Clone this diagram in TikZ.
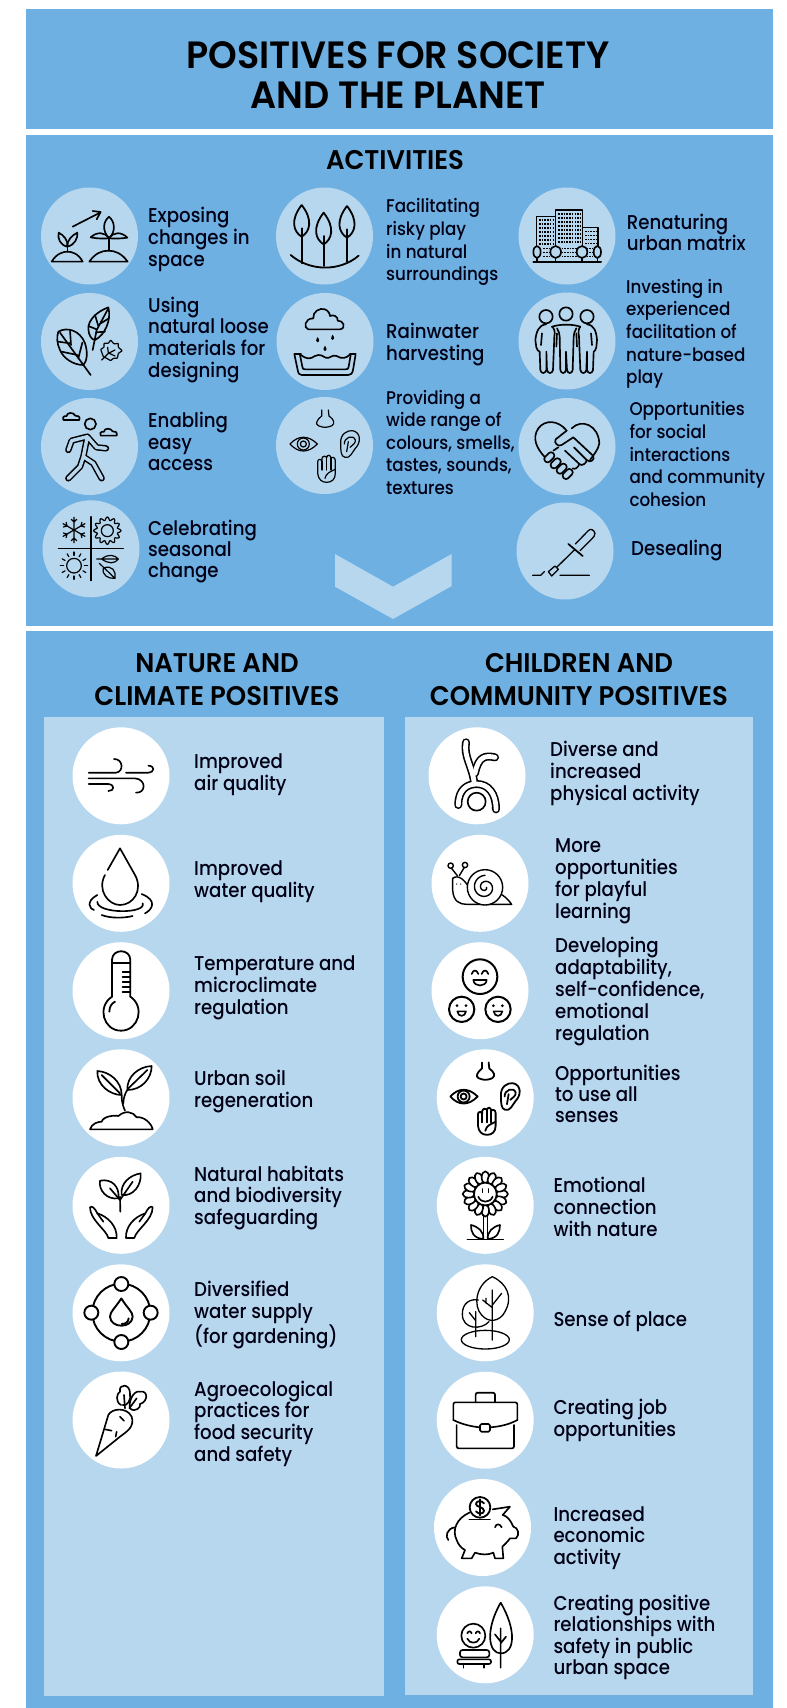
\documentclass[tikz,border=0pt]{standalone}
\usepackage{fontspec}
\setmainfont{Poppins Medium}[FakeStretch=0.91]
\newfontfamily\headfont{Poppins SemiBold}[FakeStretch=0.96]
\usetikzlibrary{calc}
\definecolor{panel}{HTML}{6EB0E2}
\definecolor{lite}{HTML}{B7D7EF}
\newcommand\lab[5][21.6]{\node[lbl] (#2) at (#3,#4) {\fontsize{20}{#1}\selectfont\begin{tabular}[t]{@{}l@{}}#5\end{tabular}};}
\newcommand\labsm[5][22.6]{\node[lbl] (#2) at (#3,#4) {\fontsize{18.4}{#1}\selectfont\begin{tabular}[t]{@{}l@{}}#5\end{tabular}};}
\tikzset{
  panelbox/.style={fill=panel,draw=none},
  litebox/.style={fill=lite,draw=none},
  acirc/.style={circle,fill=lite,draw=none,minimum size=97pt,inner sep=0pt},
  wcirc/.style={circle,fill=white,draw=none,minimum size=97pt,inner sep=0pt},
  lbl/.style={anchor=base west,inner sep=0pt,text=black!92!blue},
  headA/.style={anchor=base,inner sep=0pt,font=\fontsize{38}{44}\selectfont\headfont},
  headB/.style={anchor=base,inner sep=0pt,font=\fontsize{27}{32}\selectfont\headfont},
  zc/.style 2 args={shift={(#1,#2)},x=0.33333pt,y=-0.33333pt},
  ico/.style={draw=black,line width=1.65pt,line cap=round,line join=round},
  thin ico/.style={draw=black,line width=1.2pt,line cap=round,line join=round},
}
\newcommand\senses{%
  \draw (965,150)--(965,168) .. controls (950,180) and (945,192) .. (955,197) .. controls (965,200) and (970,203) .. (976,202) .. controls (985,203) and (990,198) .. (996,197) .. controls (1006,190) and (1002,178) .. (987,168)--(985,150);
  \draw (870,252) .. controls (895,225) and (925,225) .. (952,252) .. controls (925,280) and (895,280) .. (870,252);
  \draw (910,252) circle (18) (910,252) circle (9);
  \draw (1022,250) .. controls (1020,222) and (1042,210) .. (1058,212) .. controls (1085,218) and (1082,250) .. (1066,265) .. controls (1056,278) and (1050,296) .. (1035,292) .. controls (1022,290) and (1022,270) .. (1022,250);
  \draw (1033,252) .. controls (1032,232) and (1060,222) .. (1066,240) .. controls (1068,250) and (1056,256) .. (1050,262);
  \draw (1045,245)--(1040,275);
  \draw (953,340)--(953,305) .. controls (953,296) and (965,296) .. (966,305)--(966,295) .. controls (967,287) and (979,287) .. (980,293) .. controls (981,283) and (992,283) .. (993,295) .. controls (994,290) and (1006,290) .. (1006,302)--(1006,340) .. controls (1006,358) and (995,367) .. (980,367) .. controls (965,367) and (955,358) .. (953,340) -- cycle;
  \draw (966,305)--(966,330) (980,293)--(980,330) (993,295)--(993,330);
  \draw (975,355) .. controls (978,340) and (990,335) .. (1006,328);
}
\begin{document}
\begin{tikzpicture}[x=1pt,y=-1pt]
\useasboundingbox (0,0) rectangle (787,1708);
\fill[white] (0,0) rectangle (787,1708);
% panels
\fill[panelbox] (26,9) rectangle (773,129);
\fill[panelbox] (26,135) rectangle (773,626);
\fill[panelbox] (26,631) rectangle (773,1708);
\fill[litebox] (44,717) rectangle (384,1696);
\fill[litebox] (405,717) rectangle (753,1695);
% chevron
\fill[litebox] (335,554) -- (393,586.7) -- (451.7,554) -- (451.7,586) -- (393,619) -- (335,586.7) -- cycle;
% headings
\node[headA] (title1) at (398,68) {POSITIVES FOR SOCIETY};
\node[headA] (title2) at (398,108) {AND THE PLANET};
\node[headB] (acth) at (395,169) {ACTIVITIES};
\node[headB] (nat1) at (217,672.7) {NATURE AND};
\node[headB] (nat2) at (217,705) {CLIMATE POSITIVES};
\node[headB] (chi1) at (579,672.7) {CHILDREN AND};
\node[headB] (chi2) at (579,705) {COMMUNITY POSITIVES};
% activity circles
\node[acirc] (a1) at (89.5,236) {};
\node[acirc] (a2) at (89.5,341.5) {};
\node[acirc] (a3) at (89.5,446.5) {};
\node[acirc] (a4) at (91,548.8) {};
\node[acirc] (b1) at (324.5,236) {};
\node[acirc] (b2) at (325,341.5) {};
\node[acirc] (b3) at (324.5,445.5) {};
\node[acirc] (c1) at (567,236) {};
\node[acirc] (c2) at (567,341) {};
\node[acirc] (c3) at (567,446.5) {};
\node[acirc] (c4) at (565,551) {};
% bottom circles
\foreach \n/\y in {l1/775.8,l2/883.3,l3/990.7,l4/1097.8,l5/1205.3,l6/1312.8,l7/1420}{\node[wcirc] (\n) at (121,\y) {};}
\node[wcirc] (r1) at (477,775.8) {};
\node[wcirc] (r2) at (480,883.3) {};
\node[wcirc] (r3) at (480,990.7) {};
\node[wcirc] (r4) at (485.2,1097.8) {};
\node[wcirc] (r5) at (485.2,1205.3) {};
\node[wcirc] (r6) at (485.2,1312.8) {};
\node[wcirc] (r7) at (485.2,1420.2) {};
\node[wcirc] (r8) at (482.5,1527.5) {};
\node[wcirc] (r9) at (485.2,1634.8) {};
% activity labels
\lab{ta1}{148}{222.7}{Exposing\\changes in\\space}
\lab{ta2}{148}{312.3}{Using\\natural loose\\materials for\\designing}
\lab{ta3}{148}{427.7}{Enabling\\easy\\access}
\lab[21]{ta4}{148}{535}{Celebrating\\seasonal\\change}
\labsm[22.7]{tb1}{386}{212.7}{Facilitating\\risky play\\in natural\\surroundings}
\lab[22]{tb2}{386}{338}{Rainwater\\harvesting}
\labsm[22.5]{tb3}{386}{404.3}{Providing a\\wide range of\\colours, smells,\\tastes, sounds,\\textures}
\lab{tc1}{626.7}{229}{Renaturing\\urban matrix}
\labsm[22.6]{tc2}{626}{293.3}{Investing in\\experienced\\facilitation of\\nature-based\\play}
\labsm[22.7]{tc3}{629.3}{415.7}{Opportunities\\for social\\interactions\\and community\\cohesion}
\lab{tc4}{631}{555}{Desealing}
% bottom labels
\lab{tl1}{194}{768.3}{Improved\\air quality}
\lab[22]{tl2}{194}{875.7}{Improved\\water quality}
\lab{tl3}{194}{970.7}{Temperature and\\microclimate\\regulation}
\lab{tl4}{194}{1085.7}{Urban soil\\regeneration}
\lab{tl5}{194}{1181}{Natural habitats\\and biodiversity\\safeguarding}
\lab{tl6}{194}{1296.7}{Diversified\\water supply\\(for gardening)}
\lab[21.4]{tl7}{194}{1396}{Agroecological\\practices for\\food security\\and safety}
\lab{tr1}{550}{756.7}{Diverse and\\increased\\physical activity}
\lab[21.4]{tr2}{555}{852.7}{More\\opportunities\\for playful\\learning}
\lab[21.4]{tr3}{555}{952.7}{Developing\\adaptability,\\self-confidence,\\emotional\\regulation}
\lab[21]{tr4}{555}{1080.7}{Opportunities\\to use all\\senses}
\lab[21.5]{tr5}{553.3}{1192.7}{Emotional\\connection\\with nature}
\lab{tr6}{553.3}{1326}{Sense of place}
\lab{tr7}{553.3}{1414.3}{Creating job\\opportunities}
\lab{tr8}{553.3}{1521}{Increased\\economic\\activity}
\lab[21.3]{tr9}{553.3}{1610}{Creating positive\\relationships with\\safety in public\\urban space}
% ---------- icons ----------
% plants
\begin{scope}[zc={0}{0},ico]
\draw (218,680)--(300,638) (278,633)--(302,636)--(290,658);
\draw (155,785)--(248,785) .. controls (235,760) and (215,755) .. (202,755) .. controls (190,755) and (170,760) .. (155,785) -- cycle;
\draw (202,755)--(202,740);
\draw (202,740) .. controls (180,735) and (172,715) .. (176,698) .. controls (190,705) and (205,720) .. (202,740);
\draw (202,740) .. controls (224,735) and (234,715) .. (232,698) .. controls (218,705) and (200,720) .. (202,740);
\draw (268,785)--(383,785) .. controls (365,760) and (345,752) .. (325,752) .. controls (305,752) and (285,760) .. (268,785) -- cycle;
\draw (327,752)--(327,715);
\draw (327,715) .. controls (305,690) and (310,665) .. (327,650) .. controls (345,665) and (348,695) .. (327,715);
\draw (327,715) .. controls (315,695) and (290,695) .. (272,712) .. controls (290,716) and (310,716) .. (327,715);
\draw (327,715) .. controls (340,695) and (365,695) .. (382,713) .. controls (365,716) and (345,716) .. (327,715);
\end{scope}
% three trees
\begin{scope}[zc={0}{0},ico,line width=1.8pt]
\draw (872,765) .. controls (930,815) and (1020,815) .. (1076,767);
\foreach \tx/\ty/\bb in {905/615/790,971/638/798,1041/618/785}{
  \draw (\tx,\ty) .. controls ({\tx-35},{\ty+45}) and ({\tx-25},{\ty+80}) .. (\tx,{\ty+95}) .. controls ({\tx+25},{\ty+80}) and ({\tx+35},{\ty+45}) .. (\tx,\ty);
  \draw (\tx,{\ty+70})--(\tx,\bb);
}
\end{scope}
% buildings
\begin{scope}[zc={390}{0},ico]
\draw (440,765)--(440,650)--(495,650) (497,765)--(497,630)--(578,630)--(578,765) (578,682)--(624,682)--(624,765);
\foreach \yy in {660,672,684,696,708,720,732}{\draw[line width=1.2pt,line cap=butt,dash pattern=on 1.5pt off 1.2pt] (447,\yy)--(490,\yy);}
\foreach \yy in {642,654,666,678,690,702,714,726}{\draw[line width=1.2pt,line cap=butt,dash pattern=on 1.5pt off 1.2pt] (505,\yy)--(572,\yy);}
\foreach \yy in {694,706,718,730}{\draw[line width=1.2pt,line cap=butt,dash pattern=on 1.5pt off 1.2pt] (585,\yy)--(618,\yy);}
\foreach \yy in {745,757,769}{\draw[line width=1.2pt,line cap=butt,dash pattern=on 1.5pt off 1.2pt] (460,\yy)--(480,\yy) (515,\yy)--(560,\yy) (590,\yy)--(610,\yy);}
\draw[line width=2pt] (430,785)--(633,785);
\foreach \tx/\rx in {441/11,497/16,576/16,622/11}{
  \draw[fill=lite] (\tx,756) ellipse ({\rx} and 18);
  \draw (\tx,774)--(\tx,785);
}
\end{scope}
% leaves
\begin{scope}[zc={40}{290},ico]
\draw (55,125) .. controls (80,110) and (120,120) .. (135,160) .. controls (145,190) and (140,215) .. (130,225) .. controls (100,225) and (70,205) .. (60,180) .. controls (50,160) and (50,140) .. (55,125);
\draw (60,128)--(152,255);
\draw (55,155)--(90,160) (90,120)--(93,165) (65,185)--(112,195) (127,158)--(115,205);
\draw (205,52) .. controls (170,65) and (145,90) .. (145,115) .. controls (145,135) and (155,150) .. (165,150) .. controls (195,135) and (215,90) .. (205,52);
\draw (205,55)--(170,120)--(158,180);
\draw (165,75)--(175,108) (145,108)--(170,118) (207,85)--(182,100) (195,125)--(168,127);
\begin{scope}[line width=1.2pt]
\draw[rounded corners=0.6pt] (182,178)--(192,172)--(192,160)--(205,160)--(212,150)--(222,162)--(235,160)--(235,172)--(247,182)--(235,190)--(232,205)--(220,205)--(212,212)--(200,205)--(190,200)--cycle;
\draw (185,210)--(205,190)--(225,180) (205,190)--(203,172) (208,190)--(225,198);
\end{scope}
\end{scope}
% rain basin
\begin{scope}[zc={275}{290},ico]
\draw (100,118)--(195,118) .. controls (215,115) and (205,90) .. (188,92) .. controls (190,80) and (175,72) .. (165,78) .. controls (165,72) and (160,62) .. (150,58) .. controls (135,52) and (112,65) .. (115,85) .. controls (88,85) and (85,115) .. (100,118);
\foreach \dx/\dy in {128/150,173/143,150/176}{\fill (\dx,{\dy-9}) .. controls ({\dx-7},{\dy+1}) and ({\dx-5},{\dy+7}) .. (\dx,{\dy+7}) .. controls ({\dx+5},{\dy+7}) and ({\dx+7},{\dy+1}) .. (\dx,{\dy-9});}
\draw (58,192)--(68,240) .. controls (70,250) and (72,255) .. (80,255)--(220,255) .. controls (228,255) and (232,250) .. (234,240)--(242,192)--(225,192);
\draw (58,192)--(78,192) (75,195)--(82,230) .. controls (83,237) and (85,238) .. (90,238)--(212,238) .. controls (218,238) and (220,236) .. (221,230)--(227,195);
\draw (78,195) .. controls (95,208) and (105,208) .. (120,198) .. controls (135,190) and (145,200) .. (152,203) .. controls (165,208) and (170,192) .. (185,198) .. controls (200,208) and (215,205) .. (225,193);
\end{scope}
% people
\begin{scope}[zc={517}{290},ico]
\draw (87,80) circle (20) (147,72) circle (20) (210,80) circle (20);
\draw (105,110) .. controls (130,102) and (165,102) .. (190,110);
\draw (87,103) .. controls (65,105) and (58,125) .. (55,150)--(58,172) .. controls (60,180) and (65,185) .. (68,185)--(70,240) .. controls (72,252) and (85,252) .. (88,240)--(88,185)--(90,240) .. controls (92,252) and (106,252) .. (108,240)--(112,140) .. controls (115,125) and (112,115) .. (105,110);
\draw (75,130)--(72,165) (120,130)--(118,170);
\draw (120,115) .. controls (125,125) and (128,130) .. (128,140)--(130,240) .. controls (132,252) and (145,252) .. (147,240)--(147,185)--(150,240) .. controls (152,252) and (165,252) .. (167,240)--(170,140) .. controls (170,130) and (173,125) .. (178,115);
\draw (210,103) .. controls (232,105) and (238,125) .. (240,150)--(238,172) .. controls (236,180) and (232,185) .. (230,185)--(228,240) .. controls (226,252) and (212,252) .. (210,240)--(210,185)--(208,240) .. controls (206,252) and (192,252) .. (190,240)--(186,140) .. controls (183,125) and (185,115) .. (190,110);
\draw (222,130)--(225,165) (178,130)--(180,170);
\end{scope}
% walker
\begin{scope}[zc={0}{360},ico]
\draw (271,192) circle (17);
\draw (190,180)--(238,180) .. controls (242,170) and (232,165) .. (226,167) .. controls (220,155) and (200,157) .. (200,168) .. controls (190,167) and (185,175) .. (190,180);
\draw (302,227)--(350,227) .. controls (353,217) and (345,212) .. (338,214) .. controls (332,203) and (312,204) .. (312,215) .. controls (302,214) and (296,222) .. (302,227);
\draw[line width=6.4pt] (262,230)--(215,242)--(205,270) (262,230)--(290,262)--(318,265) (262,230)--(250,290)--(280,310)--(305,355) (250,290)--(240,320)--(205,355);
\draw[line width=3.4pt,draw=lite] (262,230)--(215,242)--(205,270) (262,230)--(290,262)--(318,265) (262,230)--(250,290)--(280,310)--(305,355) (250,290)--(240,320)--(205,355);
\end{scope}
% seasons
\begin{scope}[zc={0}{360},thin ico]
\draw (273,470)--(273,662) (175,566)--(370,566);
\begin{scope}[shift={(222,510)}]
\foreach \a in {0,60,...,300}{\draw[rotate=\a] (0,0)--(0,-38) (-8,-32)--(0,-24)--(8,-32);}
\end{scope}
\draw (322,512) circle (18);
\draw plot[domain=0:360,samples=113,smooth] ({322+(36+5*cos(12*\x))*cos(\x)},{512+(36+5*cos(12*\x))*sin(\x)}) -- cycle;
\draw (222,617) circle (22);
\foreach \a in {0,30,...,330}{\draw ({222+31*cos(\a)},{617+31*sin(\a)})--({222+41*cos(\a)},{617+41*sin(\a)});}
\draw (290,597)--(355,597) (305,597) .. controls (325,580) and (345,585) .. (355,597) .. controls (345,612) and (325,612) .. (305,597);
\draw (298,610)--(345,655) (310,625) .. controls (335,612) and (350,635) .. (345,655) .. controls (325,657) and (305,645) .. (310,625);
\end{scope}
% senses, activities
\begin{scope}[zc={0}{360},thin ico]
\senses
\end{scope}
% handshake heart
\begin{scope}[zc={390}{360},ico]
\draw (465,292) .. controls (440,265) and (425,235) .. (445,205) .. controls (465,178) and (505,180) .. (530,212);
\draw (545,205) .. controls (575,175) and (625,195) .. (628,250) .. controls (625,270) and (610,285) .. (600,300);
\draw (530,212)--(497,238) .. controls (490,248) and (505,262) .. (515,255)--(550,232)--(610,288) .. controls (615,300) and (600,310) .. (590,300)--(552,262);
\draw (590,300) .. controls (590,310) and (575,320) .. (568,312)--(525,272);
\draw (568,312) .. controls (565,322) and (555,330) .. (548,325);
\draw (505,262)--(490,272);
\foreach \cx/\cy in {478/292,497/310,515/326,533/342}{\draw[shift={(\cx,\cy)},rotate=45,rounded corners=3pt,fill=lite] (-17,-10) rectangle (17,10);}
\end{scope}
% desealing
\begin{scope}[zc={390}{360},ico,line width=1.3pt]
\draw (556,552)--(595,512) .. controls (600,505) and (612,508) .. (615,520) .. controls (615,527) and (610,532) .. (607,535)--(570,572);
\draw[line width=1.7pt] (535,552)--(578,588);
\draw (553,570)--(500,622);
\draw (475,635)--(495,618)--(505,628)--(485,648)--cycle;
\draw (428,646)--(452,646)--(463,635) (510,646)--(598,646);
\end{scope}
% wind
\begin{scope}[zc={40}{710},ico]
\draw (146,188)--(228,188) .. controls (252,186) and (250,146) .. (222,147);
\draw (146,205)--(285,205) .. controls (320,208) and (318,250) .. (288,248);
\draw (146,222)--(205,222) .. controls (225,224) and (224,243) .. (205,243);
\draw (258,188)--(325,188) .. controls (345,186) and (345,168) .. (325,167);
\end{scope}
% drop
\begin{scope}[zc={40}{710},ico]
\draw (203,480)--(240,415)--(285,495) .. controls (310,540) and (280,585) .. (240,585) .. controls (205,585) and (170,540) .. (195,495);
\draw (172,575) .. controls (170,612) and (320,612) .. (308,580);
\draw (172,555) .. controls (135,575) and (150,598) .. (162,600);
\draw (305,552) .. controls (355,572) and (335,600) .. (315,610);
\draw (185,615) .. controls (210,625) and (250,625) .. (278,618);
\end{scope}
% thermometer
\begin{scope}[zc={40}{710},ico,line width=1.8pt]
\draw (216,860)--(216,750) .. controls (216,715) and (271,715) .. (271,750)--(271,860);
\draw (216,860) .. controls (170,890) and (190,962) .. (243,962) .. controls (296,962) and (316,890) .. (271,860);
\draw (216,760)--(271,760);
\foreach \yy in {785,800,815,830,845}{\draw (248,\yy)--(271,\yy);}
\draw (208,905) .. controls (208,890) and (215,880) .. (225,875);
\end{scope}
% soil sprout
\begin{scope}[zc={40}{1040},ico]
\draw (150,268)--(338,268) .. controls (335,250) and (310,228) .. (290,232) .. controls (280,215) and (255,210) .. (235,228) .. controls (225,225) and (190,228) .. (185,245) .. controls (175,245) and (155,250) .. (150,268) -- cycle;
\draw (255,212) .. controls (245,190) and (245,175) .. (245,165);
\draw (250,190) .. controls (250,175) and (255,160) .. (262,150);
\draw (245,165) .. controls (210,165) and (170,135) .. (172,93) .. controls (210,95) and (245,125) .. (245,165);
\draw (185,105)--(240,160);
\draw (262,150) .. controls (260,110) and (295,80) .. (335,78) .. controls (335,115) and (305,150) .. (262,150);
\draw (322,90)--(265,145);
\end{scope}
% habitats
\begin{scope}[zc={40}{1040},ico]
\draw (241,515)--(240,470);
\draw (235,475) .. controls (200,480) and (175,450) .. (180,422) .. controls (215,415) and (240,440) .. (235,475);
\draw (210,445)--(240,480);
\draw (245,465) .. controls (240,430) and (270,405) .. (302,400) .. controls (305,435) and (280,470) .. (245,465);
\draw (278,425)--(240,480);
\draw (150,502) .. controls (155,495) and (165,505) .. (172,520) .. controls (205,530) and (232,560) .. (230,594)--(205,594) .. controls (200,570) and (150,540) .. (150,502);
\draw (190,545)--(172,520);
\draw (338,502) .. controls (333,495) and (323,505) .. (316,520) .. controls (283,530) and (256,560) .. (258,594)--(283,594) .. controls (288,570) and (338,540) .. (338,502);
\draw (298,545)--(316,520);
\end{scope}
% diversified
\begin{scope}[zc={40}{1040},ico,line width=1.9pt]
\draw (244,818) circle (87);
\foreach \dx/\dy in {244/732,154/818,332/818,244/906}{\draw[fill=white] (\dx,\dy) circle (21);}
\draw (244,775) .. controls (225,805) and (210,815) .. (210,830) .. controls (212,866) and (276,866) .. (278,830) .. controls (278,815) and (262,805) .. (244,775);
\draw (245,852) .. controls (258,852) and (265,845) .. (266,835);
\end{scope}
% carrot
\begin{scope}[zc={40}{1040},ico]
\draw (168,1248)--(205,1125) .. controls (215,1105) and (260,1100) .. (275,1130) .. controls (285,1160) and (260,1175) .. (240,1190)--cycle;
\draw (195,1168)--(215,1172) (230,1175)--(227,1190) (240,1130)--(252,1142);
\draw (243,1095) .. controls (225,1085) and (230,1060) .. (240,1055) .. controls (235,1030) and (270,1030) .. (270,1060) .. controls (275,1080) and (260,1100) .. (248,1095);
\draw (270,1105) .. controls (285,1120) and (305,1100) .. (300,1092) .. controls (325,1085) and (325,1050) .. (300,1055) .. controls (280,1050) and (265,1085) .. (270,1105);
\draw (255,1105)--(252,1065) (268,1105)--(290,1075);
\end{scope}
% handstand
\begin{scope}[zc={410}{710},ico]
\draw (200,275) circle (27);
\draw[line width=8pt] (145,285) .. controls (145,235) and (175,222) .. (200,222) .. controls (235,222) and (258,250) .. (258,298);
\draw[line width=8pt] (168,97) .. controls (160,140) and (188,170) .. (193,222);
\draw[line width=8pt] (195,190) .. controls (205,140) and (225,135) .. (255,142);
\draw[line width=4.8pt,white] (145,285) .. controls (145,235) and (175,222) .. (200,222) .. controls (235,222) and (258,250) .. (258,298);
\draw[line width=4.8pt,white] (168,97) .. controls (160,140) and (188,170) .. (193,222);
\draw[line width=4.8pt,white] (195,190) .. controls (205,140) and (225,135) .. (255,142);
\end{scope}
% snail
\begin{scope}[zc={410}{710},ico,line width=1.4pt]
\draw (128,505)--(128,540) .. controls (130,575) and (150,583) .. (170,583)--(305,583) .. controls (292,565) and (282,558) .. (272,552);
\draw (128,505) .. controls (145,492) and (165,510) .. (178,535);
\draw (142,497)--(124,474) (148,497)--(163,472);
\draw (122,467) circle (8) (165,465) circle (8);
\fill (140,522) circle (2) (152,522) circle (2);
\draw[fill=white] (225,532) circle (53);
\draw plot[domain=0:630,samples=90,smooth] ({225+(4+0.0508*\x)*cos(\x)},{532+(4+0.0508*\x)*sin(\x)});
\end{scope}
% smileys
\begin{scope}[zc={410}{710},ico]
\draw[line width=2pt] (210,800) circle (52) (155,898) circle (38) (264,898) circle (38);
\draw (185,792) .. controls (190,778) and (200,778) .. (205,792) (215,792) .. controls (220,778) and (230,778) .. (235,792);
\draw (190,810)--(230,810) .. controls (228,832) and (192,832) .. (190,810) -- cycle;
\fill (141,887) circle (4.5) (168,887) circle (4.5) (250,887) circle (4.5) (277,887) circle (4.5);
\draw (142,904)--(168,904) .. controls (166,922) and (144,922) .. (142,904) -- cycle;
\draw (251,904)--(277,904) .. controls (275,922) and (253,922) .. (251,904) -- cycle;
\end{scope}
% senses, bottom
\begin{scope}[zc={160.3}{1012.5},ico,line width=1.8pt]
\senses
\end{scope}
% flower
\begin{scope}[zc={410}{1040},ico]
\foreach \a in {0,22.5,...,337.5}{\draw[fill=white] ({226+50*cos(\a)},{462+50*sin(\a)}) ellipse [x radius=18,y radius=11,rotate=-\a];}
\draw[fill=white] (226,462) circle (34);
\draw (218,447)--(218,457) (235,447)--(235,457);
\draw (205,470) .. controls (212,490) and (240,490) .. (248,470);
\draw (220,525)--(220,597) (233,525)--(233,597);
\draw (220,597) .. controls (190,595) and (182,575) .. (183,555) .. controls (205,560) and (222,575) .. (220,597);
\draw (233,597) .. controls (263,595) and (270,575) .. (270,555) .. controls (248,560) and (232,575) .. (233,597);
\draw (172,598)--(280,598);
\end{scope}
% sense of place trees
\begin{scope}[zc={410}{1040},ico,line width=1.3pt]
\draw (226,899) ellipse (72 and 28);
\draw (247,710) .. controls (195,735) and (190,800) .. (215,825) .. controls (235,850) and (270,845) .. (285,815) .. controls (310,770) and (290,730) .. (247,710);
\draw (247,750)--(247,900) (247,803)--(218,780) (228,790)--(228,775) (247,795)--(275,760);
\draw (237,845) .. controls (215,870) and (157,870) .. (157,822) .. controls (157,790) and (180,775) .. (205,780);
\draw (197,815)--(197,890) (197,842)--(178,818);
\end{scope}
% briefcase
\begin{scope}[zc={410}{1370},ico]
\draw[rounded corners=2pt] (140,165)--(140,235)--(312,235)--(312,165);
\draw[rounded corners=2pt] (130,150)--(130,97)--(322,97)--(322,150);
\draw (130,150) .. controls (160,165) and (190,170) .. (210,172) (240,172) .. controls (265,170) and (295,165) .. (322,150);
\draw[rounded corners=2pt] (197,97)--(197,68)--(255,68)--(255,97);
\draw[rounded corners=1.5pt] (210,162) rectangle (240,185);
\end{scope}
% piggy
\begin{scope}[zc={410}{1370},ico]
\draw (178,428) .. controls (140,445) and (125,480) .. (140,510) .. controls (145,525) and (155,535) .. (165,540)--(155,565)--(185,565)--(195,548) .. controls (215,555) and (235,555) .. (250,548)--(255,565)--(280,565)--(277,530) .. controls (288,520) and (295,512) .. (300,505)--(318,505) .. controls (330,495) and (325,472) .. (310,470) .. controls (302,450) and (290,437) .. (278,435)--(300,410)--(248,418);
\draw (135,472) .. controls (110,475) and (105,500) .. (115,510);
\draw (255,472) .. controls (258,460) and (270,460) .. (275,472);
\draw (178,448)--(240,448);
\draw[line width=1.8pt] (210,412) circle (31);
\draw[line width=1.8pt] (222,400) .. controls (215,390) and (198,392) .. (198,402) .. controls (198,412) and (222,410) .. (222,422) .. controls (222,432) and (205,434) .. (198,424);
\draw[line width=1.8pt] (210,388)--(210,436);
\end{scope}
% bench, smiley and tree
\begin{scope}[zc={410}{1370},ico]
\draw (190,797) circle (36);
\draw (172,790) .. controls (175,782) and (182,782) .. (185,790) (197,790) .. controls (200,782) and (207,782) .. (210,790);
\draw (172,806) .. controls (178,822) and (202,822) .. (208,806);
\draw (272,698) .. controls (225,780) and (235,850) .. (272,850) .. controls (315,850) and (320,780) .. (272,698);
\draw (272,775)--(272,893) (272,815)--(255,793) (272,820)--(288,800);
\draw[rounded corners=2.5pt] (150,840) rectangle (238,862);
\draw[rounded corners=2pt] (142,868) rectangle (243,882);
\draw (160,882)--(160,893) (222,882)--(222,893);
\end{scope}
\end{tikzpicture}
\end{document}
